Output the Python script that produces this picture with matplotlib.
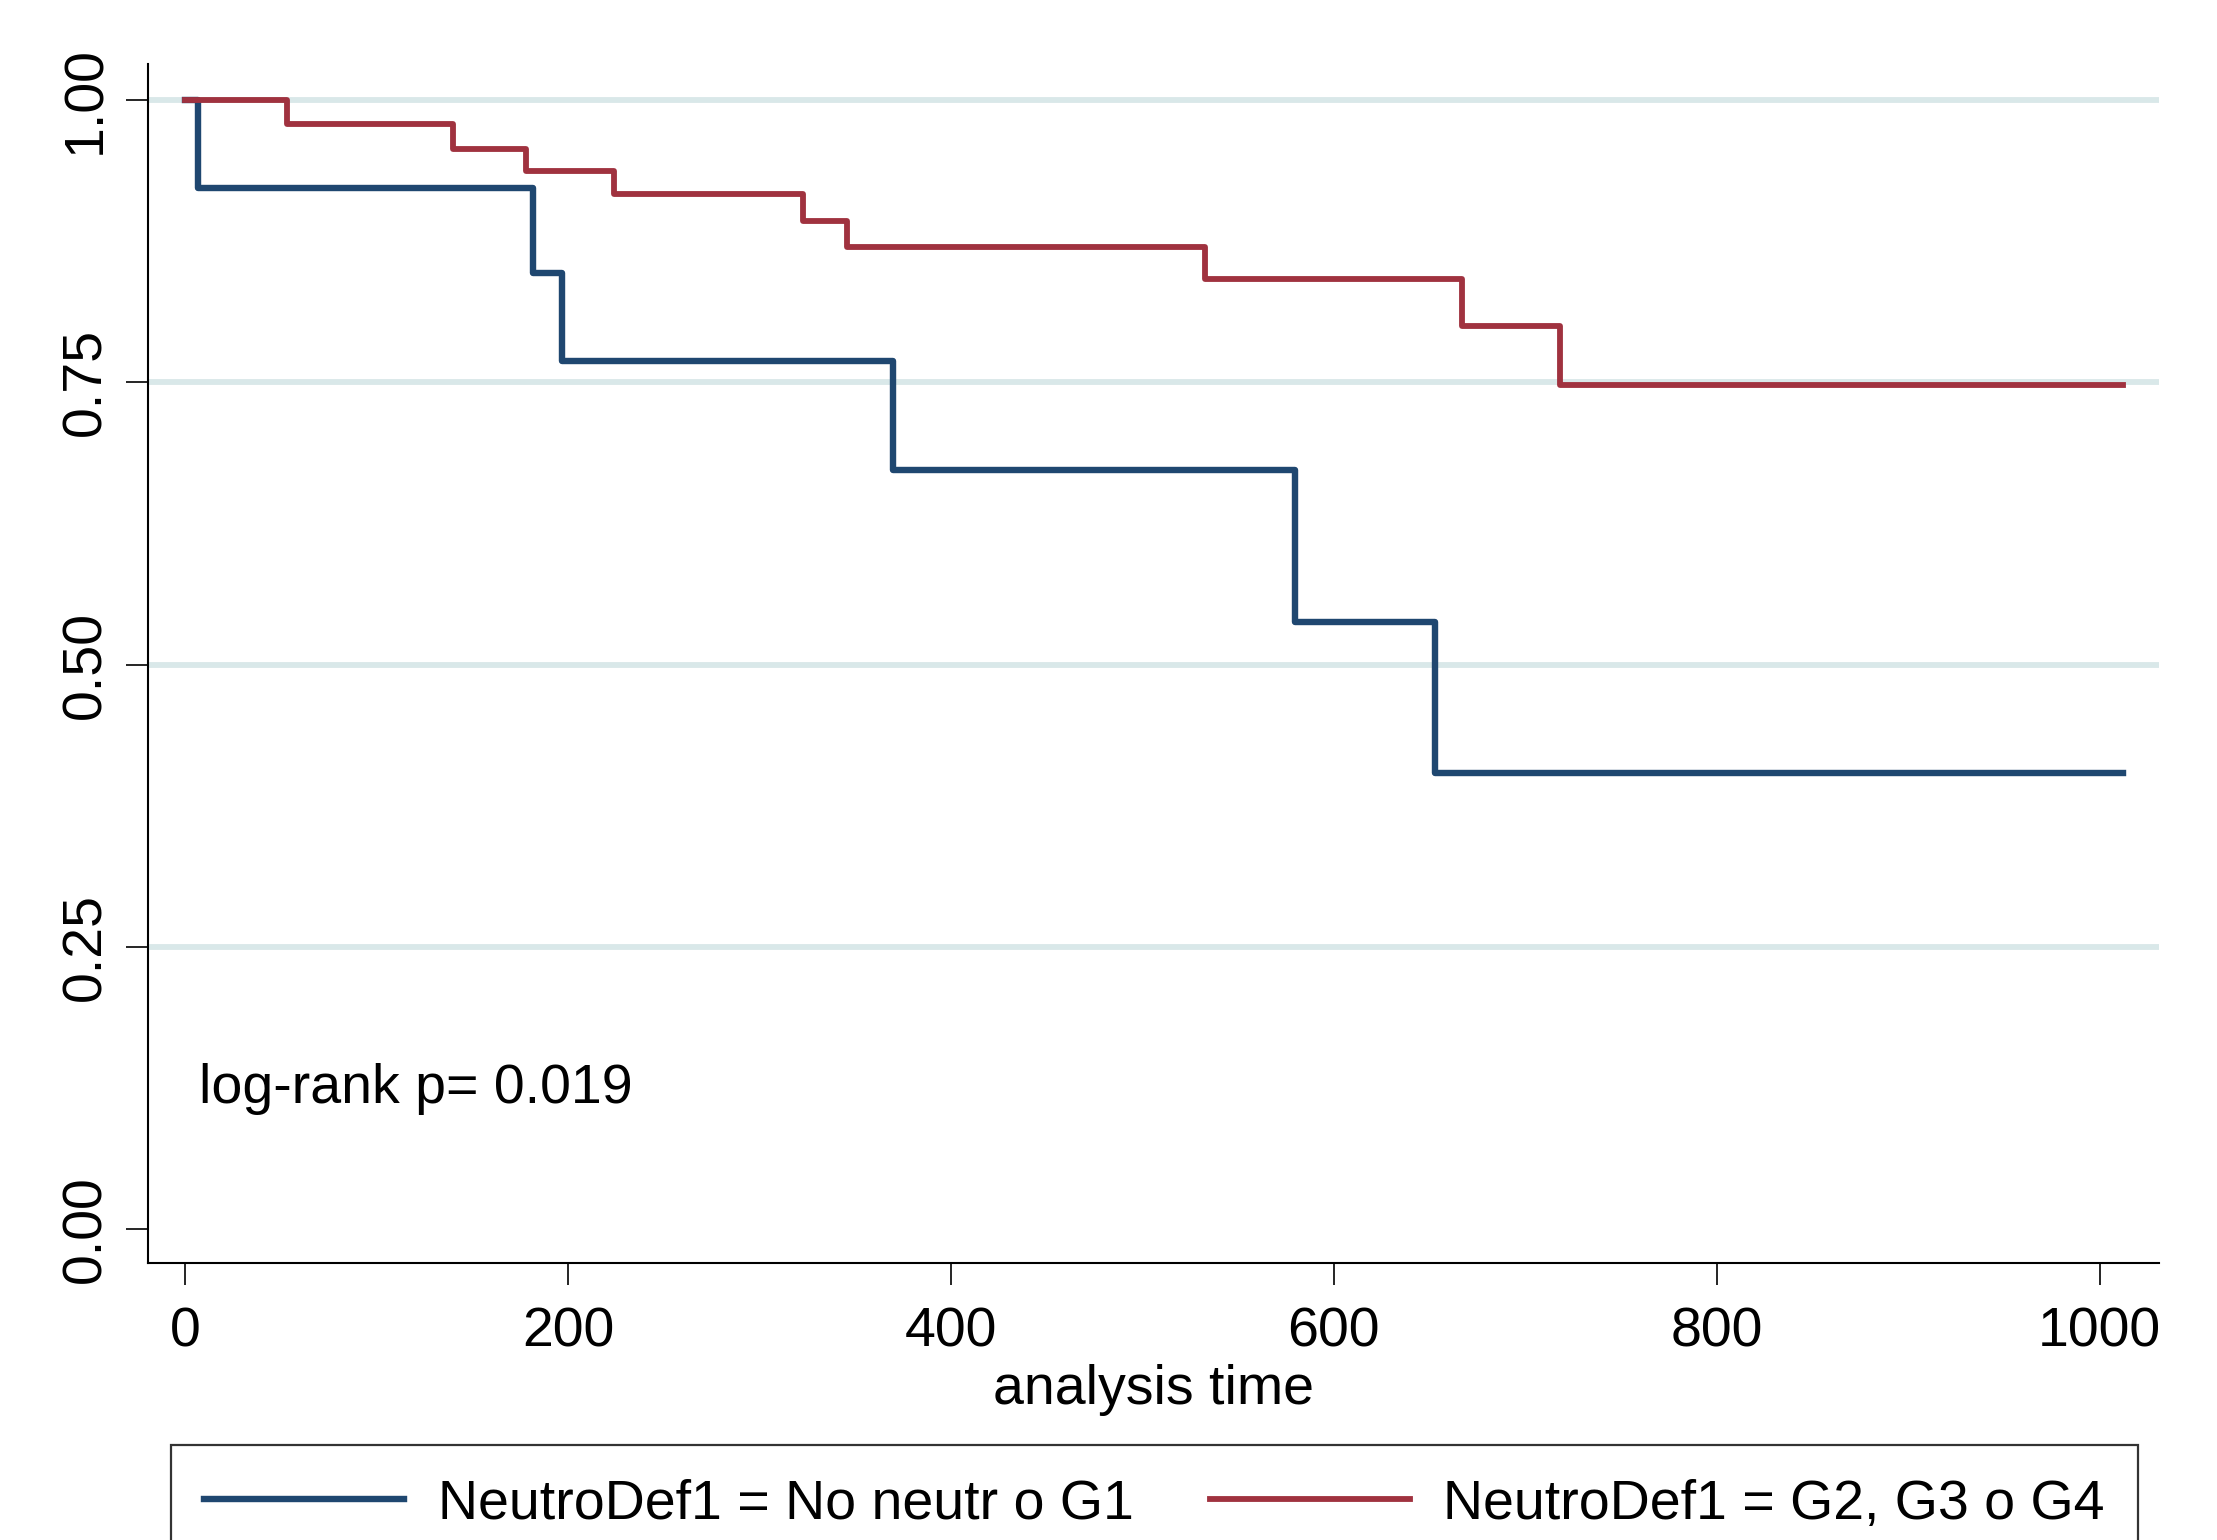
import matplotlib
matplotlib.use('Agg')
import matplotlib.pyplot as plt

plt.rcParams['font.family'] = ['Liberation Sans', 'DejaVu Sans']

# Kaplan-Meier estimates
t_g1 = [0, 7, 182, 197, 370, 580, 653, 1012]
s_g1 = [1.0, 0.922, 0.847, 0.769, 0.672, 0.538, 0.404, 0.404]

t_g234 = [0, 53, 140, 178, 224, 323, 346, 533, 667, 718, 1012]
s_g234 = [1.0, 0.979, 0.957, 0.937, 0.917, 0.893, 0.870, 0.842, 0.800, 0.748, 0.748]

labels = ['NeutroDef1 = No neutr o G1', 'NeutroDef1 = G2, G3 o G4']
xticks = [0, 200, 400, 600, 800, 1000]
yticks = [0.0, 0.25, 0.5, 0.75, 1.0]
ytick_labels = ['0.00', '0.25', '0.50', '0.75', '1.00']
pval_text = 'log-rank p= 0.019'

blue = '#1f4770'
red = '#a0323f'
fs = 40

fig = plt.figure(figsize=(22.17, 15.40), dpi=100)
ax = fig.add_axes([0.0668, 0.1799, 0.907, 0.7785])

for y in yticks[1:]:
    ax.axhline(y, color='#d9e8e9', lw=4.2, zorder=1)

l1, = ax.step(t_g1, s_g1, where='post', color=blue, lw=4.6, zorder=3)
l2, = ax.step(t_g234, s_g234, where='post', color=red, lw=4.2, zorder=4)

ax.set_xlim(-19.3, 1031)
ax.set_ylim(-0.030, 1.032)
ax.set_xticks(xticks)
ax.set_xticklabels([str(v) for v in xticks], fontsize=fs)
ax.set_yticks(yticks)
ax.set_yticklabels(ytick_labels, fontsize=fs, rotation=90, va='center')
ax.tick_params(axis='x', length=16, width=1.2, pad=15)
ax.tick_params(axis='y', length=16, width=1.2, pad=10)

for side in ['top', 'right']:
    ax.spines[side].set_visible(False)
for side in ['left', 'bottom']:
    ax.spines[side].set_linewidth(1.5)

ax.set_xlabel('analysis time', fontsize=fs, labelpad=4)
ax.text(7.3, 0.124, pval_text, fontsize=fs, va='center', ha='left')

leg = fig.legend([l1, l2], labels, loc='upper left',
                 bbox_to_anchor=(171 / 2217, 1 - 1447 / 1540, (2138 - 171) / 2217, 0.001),
                 mode='expand', ncol=2, fontsize=fs, handlelength=3.6,
                 handletextpad=0.6, borderpad=0.6, borderaxespad=0,
                 fancybox=False, framealpha=1)
leg.get_frame().set_edgecolor('#333333')
leg.get_frame().set_linewidth(1.6)

plt.savefig('out.png', dpi=100)
